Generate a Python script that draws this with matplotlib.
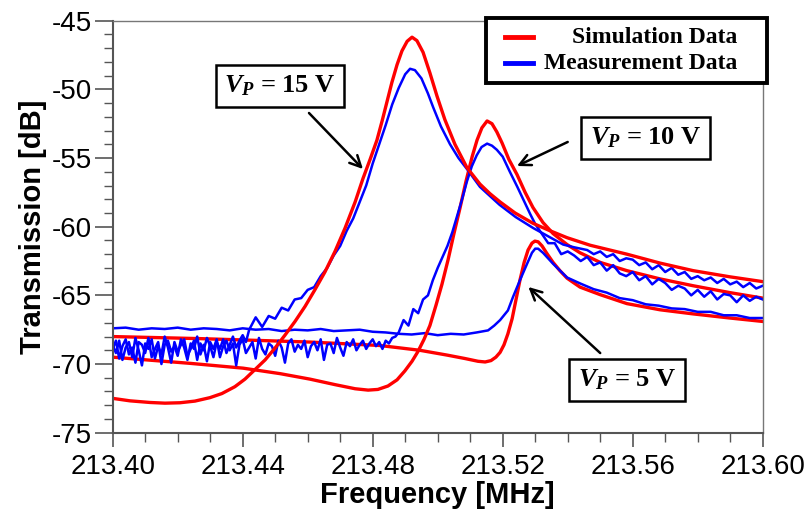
import matplotlib.pyplot as plt
import numpy as np
from matplotlib.patches import Rectangle
from matplotlib.lines import Line2D
from matplotlib.ticker import MultipleLocator, FormatStrFormatter

plt.rcParams['font.family'] = ['Liberation Sans', 'DejaVu Sans']
plt.rcParams['axes.unicode_minus'] = False
plt.rcParams['mathtext.fontset'] = 'custom'
plt.rcParams['mathtext.it'] = 'Liberation Serif:italic:bold'
plt.rcParams['mathtext.rm'] = 'Liberation Serif:bold'

# simulation curves (MHz, dB)
sim15_f = [213.4000, 213.4053, 213.4115, 213.4161, 213.4207, 213.4253, 213.4299, 213.4336,
           213.4376, 213.4407, 213.4438, 213.4469, 213.4499, 213.4530, 213.4561, 213.4592,
           213.4622, 213.4653, 213.4684, 213.4715, 213.4746, 213.4770, 213.4792, 213.4813,
           213.4829, 213.4844, 213.4859, 213.4875, 213.4890, 213.4906, 213.4921, 213.4936,
           213.4955, 213.4976, 213.4998, 213.5022, 213.5053, 213.5090, 213.5130, 213.5161,
           213.5192, 213.5238, 213.5293, 213.5346, 213.5398, 213.5469, 213.5582, 213.5684,
           213.5786, 213.5899, 213.6000]
sim15_db = [-72.5, -72.68, -72.8, -72.85, -72.82, -72.7, -72.45, -72.15,
            -71.65, -71.1, -70.4, -69.7, -68.85, -67.9, -66.9, -65.8,
            -64.6, -63.3, -61.8, -60.1, -58.2, -56.5, -55.1, -53.7,
            -52.3, -50.9, -49.5, -48.2, -47.2, -46.5, -46.2, -46.45,
            -47.3, -48.8, -50.5, -52.2, -54.0, -55.7, -56.9, -57.6,
            -58.2, -59.0, -59.75, -60.3, -60.8, -61.35, -62.0, -62.65,
            -63.2, -63.65, -64.0]

sim10_f = [213.4000, 213.4115, 213.4238, 213.4401, 213.4515, 213.4607, 213.4684, 213.4746,
           213.4786, 213.4816, 213.4847, 213.4875, 213.4899, 213.4921, 213.4939, 213.4958,
           213.4976, 213.4995, 213.5013, 213.5032, 213.5050, 213.5069, 213.5087, 213.5106,
           213.5121, 213.5136, 213.5152, 213.5167, 213.5182, 213.5198, 213.5219, 213.5244,
           213.5269, 213.5293, 213.5324, 213.5355, 213.5398, 213.5438, 213.5500, 213.5582,
           213.5684, 213.5786, 213.5899, 213.6000]
sim10_db = [-69.5, -69.72, -69.95, -70.3, -70.7, -71.1, -71.5, -71.8,
            -71.9, -71.85, -71.6, -71.15, -70.5, -69.8, -69.1, -68.2,
            -67.2, -65.7, -64.2, -62.4, -60.5, -58.6, -56.7, -54.9,
            -53.7, -52.8, -52.3, -52.5, -53.1, -53.9, -55.1, -56.2,
            -57.5, -58.6, -59.7, -60.5, -61.3, -61.9, -62.6, -63.2,
            -63.8, -64.3, -64.8, -65.2]

sim5_f = [213.4000, 213.4269, 213.4607, 213.4822, 213.4945, 213.5029, 213.5084, 213.5124,
          213.5146, 213.5164, 213.5179, 213.5192, 213.5204, 213.5216, 213.5229, 213.5241,
          213.5253, 213.5266, 213.5278, 213.5290, 213.5299, 213.5309, 213.5321, 213.5336,
          213.5355, 213.5376, 213.5398, 213.5438, 213.5500, 213.5582, 213.5684, 213.5786,
          213.5899, 213.6000]
sim5_db = [-68.0, -68.15, -68.4, -68.65, -69.0, -69.35, -69.6, -69.8,
           -69.85, -69.75, -69.5, -69.15, -68.6, -67.8, -66.7, -65.3,
           -63.9, -62.6, -61.7, -61.2, -61.05, -61.1, -61.4, -61.95,
           -62.6, -63.2, -63.75, -64.4, -64.95, -65.6, -66.05, -66.35,
           -66.65, -66.9]

# measurement, VP = 15 V
meas15_base_db = [-68.6, -69.2, -68.3, -69.7, -68.8, -68.4, -69.5, -68.1, -69.0, -70.1,
                  -68.5, -68.9, -68.2, -69.6, -68.7, -69.3, -68.0, -68.8, -69.9, -68.4,
                  -69.1, -68.6, -68.2, -69.4, -68.9, -68.3, -69.7, -68.5, -69.0, -68.1,
                  -68.7, -69.5, -68.4, -68.9, -68.2, -69.2, -68.6, -68.0, -68.8, -68.3,
                  -67.9, -68.4, -67.5]
meas15_mid_f = [213.444, 213.446, 213.448, 213.450, 213.452, 213.454, 213.456, 213.458,
                213.460, 213.462, 213.464, 213.466, 213.468, 213.470, 213.472, 213.474,
                213.476, 213.478, 213.480, 213.482, 213.484, 213.486, 213.488, 213.490,
                213.4915, 213.493, 213.495, 213.497, 213.4986, 213.5010, 213.5038, 213.5064,
                213.5090, 213.5130, 213.5190, 213.5240, 213.5294, 213.5340, 213.5386, 213.5420]
meas15_mid_db = [-66.6, -67.3, -66.5, -66.7, -65.9, -66.1, -65.3, -65.2,
                 -64.6, -64.4, -63.6, -63.0, -62.1, -61.4, -60.3, -59.4,
                 -58.2, -57.0, -55.4, -54.0, -52.6, -51.1, -49.9, -48.9,
                 -48.5, -48.6, -49.2, -50.3, -51.3, -52.7, -54.0, -55.0,
                 -55.8, -57.1, -58.4, -59.3, -60.1, -60.7, -61.3, -61.5]
meas15_tail_db = [-61.7, -62.0, -61.8, -62.2, -62.0, -62.5, -62.3, -62.4, -62.8, -62.6,
                  -63.1, -62.8, -63.3, -63.0, -63.5, -63.3, -63.8, -63.6, -63.9, -63.7,
                  -64.1, -63.8, -64.2, -64.0, -64.4, -64.1, -64.5, -64.3]

# measurement, VP = 10 V
meas10_base_db = [-68.9, -68.3, -69.6, -68.7, -68.2, -69.3, -68.8, -69.9, -68.4, -68.6,
                  -69.2, -68.1, -69.5, -68.9, -68.4, -70.0, -68.6, -68.3, -69.1, -68.7,
                  -69.4, -68.2, -68.8, -69.7, -68.5, -68.9, -68.0, -69.3, -68.6, -69.8,
                  -68.4, -68.9, -68.2, -69.5, -68.7, -68.3, -69.0, -68.5, -70.1, -68.6,
                  -68.2, -69.2, -68.8, -68.4, -69.6, -68.1, -68.9, -69.3, -68.5, -68.7,
                  -69.4, -68.3, -68.8, -69.9, -68.5, -68.2, -69.1, -68.6, -68.9, -68.3,
                  -69.5, -68.7, -68.4, -69.0, -68.2, -69.7, -68.6, -68.5, -69.2, -68.1,
                  -68.8, -69.4, -68.4, -68.7, -68.2, -69.0, -68.6, -68.3, -68.9, -68.5,
                  -68.2, -68.7, -68.4, -68.9, -68.3, -68.5, -68.1, -68.0, -67.7]
meas10_mid_f = [213.4895, 213.4910, 213.4925, 213.4940, 213.4955, 213.4970, 213.4985, 213.5000,
                213.5015, 213.5030, 213.5045, 213.5060, 213.5075, 213.5090, 213.5105, 213.5120,
                213.5135, 213.5152, 213.5167, 213.5182, 213.5200, 213.5222, 213.5245, 213.5265,
                213.5285, 213.5300]
meas10_mid_db = [-66.8, -67.2, -66.0, -66.3, -65.3, -65.0, -63.9, -63.0,
                 -62.2, -61.4, -60.4, -59.2, -58.0, -56.7, -55.6, -54.8,
                 -54.2, -53.95, -54.1, -54.4, -54.9, -56.0, -57.1, -58.1,
                 -59.1, -59.8]
meas10_tail_db = [-60.5, -61.2, -61.2, -62.0, -61.8, -62.1, -62.5, -62.2, -62.8, -62.6,
                  -63.2, -62.8, -63.4, -63.6, -63.3, -63.9, -63.6, -64.2, -63.8, -64.1,
                  -64.6, -64.3, -64.5, -65.0, -64.6, -65.1, -64.7, -65.3, -64.9, -65.0,
                  -65.5, -65.0, -65.4, -65.1, -65.3]

# measurement, VP = 5 V
meas5_base_db = [-67.4, -67.35, -67.5, -67.4, -67.45, -67.35, -67.5, -67.4, -67.45, -67.55,
                 -67.4, -67.5, -67.45, -67.6, -67.5, -67.55, -67.45, -67.6, -67.55, -67.5,
                 -67.65, -67.7, -67.8, -67.85, -67.75, -67.9, -67.8, -67.85, -67.7]
meas5_mid_f = [213.5155, 213.5174, 213.5192, 213.5216, 213.5232, 213.5253, 213.5275,
               213.5290, 213.5300, 213.5309, 213.5324, 213.5355, 213.5398]
meas5_mid_db = [-67.55, -67.2, -66.8, -66.1, -65.1, -63.9, -62.7,
                -61.9, -61.6, -61.6, -61.9, -62.7, -63.7]
meas5_tail_db = [-64.15, -64.55, -64.8, -65.2, -65.35, -65.65, -65.75, -65.95,
                 -66.0, -66.2, -66.2, -66.45, -66.45, -66.65, -66.65]

meas15_f = np.concatenate([np.linspace(213.400, 213.442, len(meas15_base_db)), meas15_mid_f,
                           np.linspace(213.546, 213.600, len(meas15_tail_db))])
meas15_db = np.concatenate([meas15_base_db, meas15_mid_db, meas15_tail_db])
meas10_f = np.concatenate([np.linspace(213.400, 213.488, len(meas10_base_db)), meas10_mid_f,
                           np.linspace(213.532, 213.600, len(meas10_tail_db))])
meas10_db = np.concatenate([meas10_base_db, meas10_mid_db, meas10_tail_db])
meas5_f = np.concatenate([np.linspace(213.400, 213.512, len(meas5_base_db)), meas5_mid_f,
                          np.linspace(213.544, 213.600, len(meas5_tail_db))])
meas5_db = np.concatenate([meas5_base_db, meas5_mid_db, meas5_tail_db])

red = '#ff0000'
blue = '#0000ff'

fig = plt.figure(figsize=(8.06, 5.19), dpi=100)
ax = fig.add_axes([0.1398, 0.1663, 0.8065, 0.7938])

ax.plot(sim5_f, sim5_db, color=red, lw=2.4, solid_joinstyle='round')
ax.plot(meas5_f, meas5_db, color=blue, lw=1.8)
ax.plot(sim10_f, sim10_db, color=red, lw=2.4, solid_joinstyle='round')
ax.plot(meas10_f, meas10_db, color=blue, lw=1.8)
ax.plot(meas15_f, meas15_db, color=blue, lw=1.8)
ax.plot(sim15_f, sim15_db, color=red, lw=2.4, solid_joinstyle='round')

ax.set_xlim(213.40, 213.60)
ax.set_ylim(-75, -45)
ax.xaxis.set_major_locator(MultipleLocator(0.04))
ax.xaxis.set_minor_locator(MultipleLocator(0.01))
ax.xaxis.set_major_formatter(FormatStrFormatter('%.2f'))
ax.yaxis.set_major_locator(MultipleLocator(5))
ax.yaxis.set_minor_locator(MultipleLocator(1))

for s in ['left', 'bottom']:
    ax.spines[s].set_color('#555555')
    ax.spines[s].set_linewidth(1.5)
for s in ['top', 'right']:
    ax.spines[s].set_color('#777777')
    ax.spines[s].set_linewidth(1.0)

ax.tick_params(axis='y', which='major', length=13, width=1.2, color='#555555', labelsize=20, pad=2)
ax.tick_params(axis='y', which='minor', length=6.5, width=1.0, color='#555555')
ax.tick_params(axis='x', which='major', length=10, width=1.2, color='#555555', labelsize=20, pad=5)
ax.tick_params(axis='x', which='minor', length=6.5, width=1.0, color='#555555')

ax.set_xlabel('Frequency [MHz]', fontsize=21, fontweight='bold', labelpad=1)
ax.set_ylabel('Transmission [dB]', fontsize=21, fontweight='bold', labelpad=3)

# legend drawn by hand so the labels can be right-aligned
ax.add_patch(Rectangle((0.5743, 0.8488), 0.4323, 0.1578, transform=ax.transAxes,
                       fc='white', ec='black', lw=2.8, clip_on=False, zorder=5))
ax.add_line(Line2D([0.6035, 0.6466], [0.9604, 0.9604], color=red, lw=3.5,
                   transform=ax.transAxes, clip_on=False, zorder=6))
ax.add_line(Line2D([0.6035, 0.6466], [0.8973, 0.8973], color=blue, lw=3.5,
                   transform=ax.transAxes, clip_on=False, zorder=6))
leg_font = dict(family='Liberation Serif', weight='bold', size=17, ha='right', va='center',
                transform=ax.transAxes, zorder=7)
ax.text(0.9605, 0.9604, 'Simulation Data', **leg_font)
ax.text(0.9605, 0.8973, 'Measurement Data', **leg_font)

# voltage labels and arrows
box = dict(boxstyle='square,pad=0.33', fc='white', ec='black', lw=1.8)
lab_font = dict(family='Liberation Serif', weight='bold', size=19, ha='center', va='center',
                bbox=box, zorder=8)
ax.text(213.4515, -49.75, r'$V_P$ = 15 V', **lab_font)
ax.text(213.5639, -53.54, r'$V_P$ = 10 V', **lab_font)
ax.text(213.5583, -71.13, r'$V_P$ = 5 V', **lab_font)

arrow = dict(arrowstyle='->,head_length=0.8,head_width=0.4', color='black', lw=1.8,
             shrinkA=0, shrinkB=0)
ax.annotate('', xy=(213.4770, -55.80), xytext=(213.4604, -51.72), arrowprops=arrow)
ax.annotate('', xy=(213.5244, -55.58), xytext=(213.5400, -53.83), arrowprops=arrow)
ax.annotate('', xy=(213.5279, -64.39), xytext=(213.5500, -69.20), arrowprops=arrow)

fig.savefig('out.png', dpi=100)
